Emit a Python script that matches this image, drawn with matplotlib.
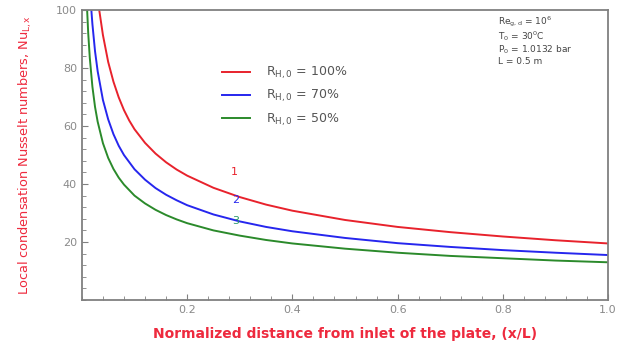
import matplotlib
matplotlib.use('Agg')
import matplotlib.pyplot as plt
from matplotlib.ticker import MultipleLocator

# Valores
x_rojo = [0.033, 0.04, 0.05, 0.06, 0.07, 0.08, 0.09, 0.10, 0.12, 0.14, 0.16, 0.18,
          0.20, 0.25, 0.30, 0.35, 0.40, 0.50, 0.60, 0.70, 0.80, 0.90, 1.0]
nu_rojo = [100, 91.4, 82.1, 75.3, 69.9, 65.5, 61.9, 58.9, 54.2, 50.5, 47.5, 45.0,
           42.9, 38.7, 35.5, 32.9, 30.8, 27.6, 25.2, 23.4, 21.9, 20.6, 19.5]

x_azul = [0.018, 0.02, 0.025, 0.03, 0.04, 0.05, 0.06, 0.07, 0.08, 0.10, 0.12, 0.14,
          0.16, 0.18, 0.20, 0.25, 0.30, 0.35, 0.40, 0.50, 0.60, 0.70, 0.80, 0.90, 1.0]
nu_azul = [100, 95.2, 85.8, 78.9, 69.0, 62.3, 57.2, 53.2, 50.0, 45.1, 41.5, 38.6,
           36.3, 34.4, 32.7, 29.5, 27.1, 25.2, 23.7, 21.4, 19.6, 18.3, 17.2, 16.3, 15.5]

x_verde = [0.01, 0.012, 0.015, 0.02, 0.025, 0.03, 0.04, 0.05, 0.06, 0.07, 0.08, 0.10,
           0.12, 0.14, 0.16, 0.18, 0.20, 0.25, 0.30, 0.35, 0.40, 0.50, 0.60, 0.70,
           0.80, 0.90, 1.0]
nu_verde = [100, 92.2, 83.6, 73.6, 66.6, 61.5, 54.1, 49.0, 45.2, 42.2, 39.8, 36.0,
            33.3, 31.1, 29.3, 27.8, 26.5, 24.0, 22.2, 20.7, 19.5, 17.7, 16.3, 15.2,
            14.4, 13.6, 13.0]

etiquetas = [r'R$_{\mathregular{H,0}}$ = 100%', r'R$_{\mathregular{H,0}}$ = 70%',
             r'R$_{\mathregular{H,0}}$ = 50%']
x_ticks = [0.2, 0.4, 0.6, 0.8, 1.0]
y_ticks = [20, 40, 60, 80, 100]

ROJO = '#e8222c'
AZUL = '#2626ee'
VERDE = '#2b8a2b'
GRIS = '#808080'
ROJO_TXT = '#ee2a3e'

fig = plt.figure(figsize=(6.25, 3.48), dpi=100)
ax = fig.add_axes([0.131, 0.138, 0.842, 0.833])

ax.plot(x_rojo, nu_rojo, color=ROJO, lw=1.4, label=etiquetas[0])
ax.plot(x_azul, nu_azul, color=AZUL, lw=1.4, label=etiquetas[1])
ax.plot(x_verde, nu_verde, color=VERDE, lw=1.4, label=etiquetas[2])

# Números de curva
ax.text(0.283, 43, '1', color=ROJO, fontsize=8)
ax.text(0.285, 33.5, '2', color=AZUL, fontsize=8)
ax.text(0.285, 26.3, '3', color='#2a9a6a', fontsize=8)

ax.set_xlim(0, 1.0)
ax.set_ylim(0, 100)
ax.set_xticks(x_ticks)
ax.set_xticklabels(['0.2', '0.4', '0.6', '0.8', '1.0'])
ax.set_yticks(y_ticks)
ax.xaxis.set_minor_locator(MultipleLocator(0.04))
ax.yaxis.set_minor_locator(MultipleLocator(4))
ax.tick_params(which='both', direction='in', colors=GRIS, labelcolor='#8a8a8a',
               labelsize=8, top=False, right=False)
ax.tick_params(which='major', length=4)
ax.tick_params(which='minor', length=3)
for s in ax.spines.values():
    s.set_color(GRIS)
    s.set_linewidth(1.3)

ax.set_xlabel('Normalized distance from inlet of the plate, (x/L)', color=ROJO_TXT,
              fontsize=10, fontweight='bold', labelpad=9)
ax.set_ylabel(r'Local condensation Nusselt numbers, Nu$_{\mathregular{L,x}}$',
              color=ROJO_TXT, fontsize=9.3, labelpad=16)

leg = ax.legend(loc='upper left', bbox_to_anchor=(0.245, 0.85), frameon=False,
                fontsize=9, handlelength=2.2, labelspacing=0.55, handletextpad=1.3)
for t in leg.get_texts():
    t.set_color('#555555')

info = ('Re$_{\\mathregular{g,d}}$ = 10$^6$\nT$_0$ = 30$^0$C\n'
        'P$_0$ = 1.0132 bar\nL = 0.5 m')
ax.text(0.79, 0.985, info, transform=ax.transAxes, fontsize=6.5, color='#444444',
        va='top', ha='left', linespacing=1.05)

fig.savefig('out.png', dpi=100)
